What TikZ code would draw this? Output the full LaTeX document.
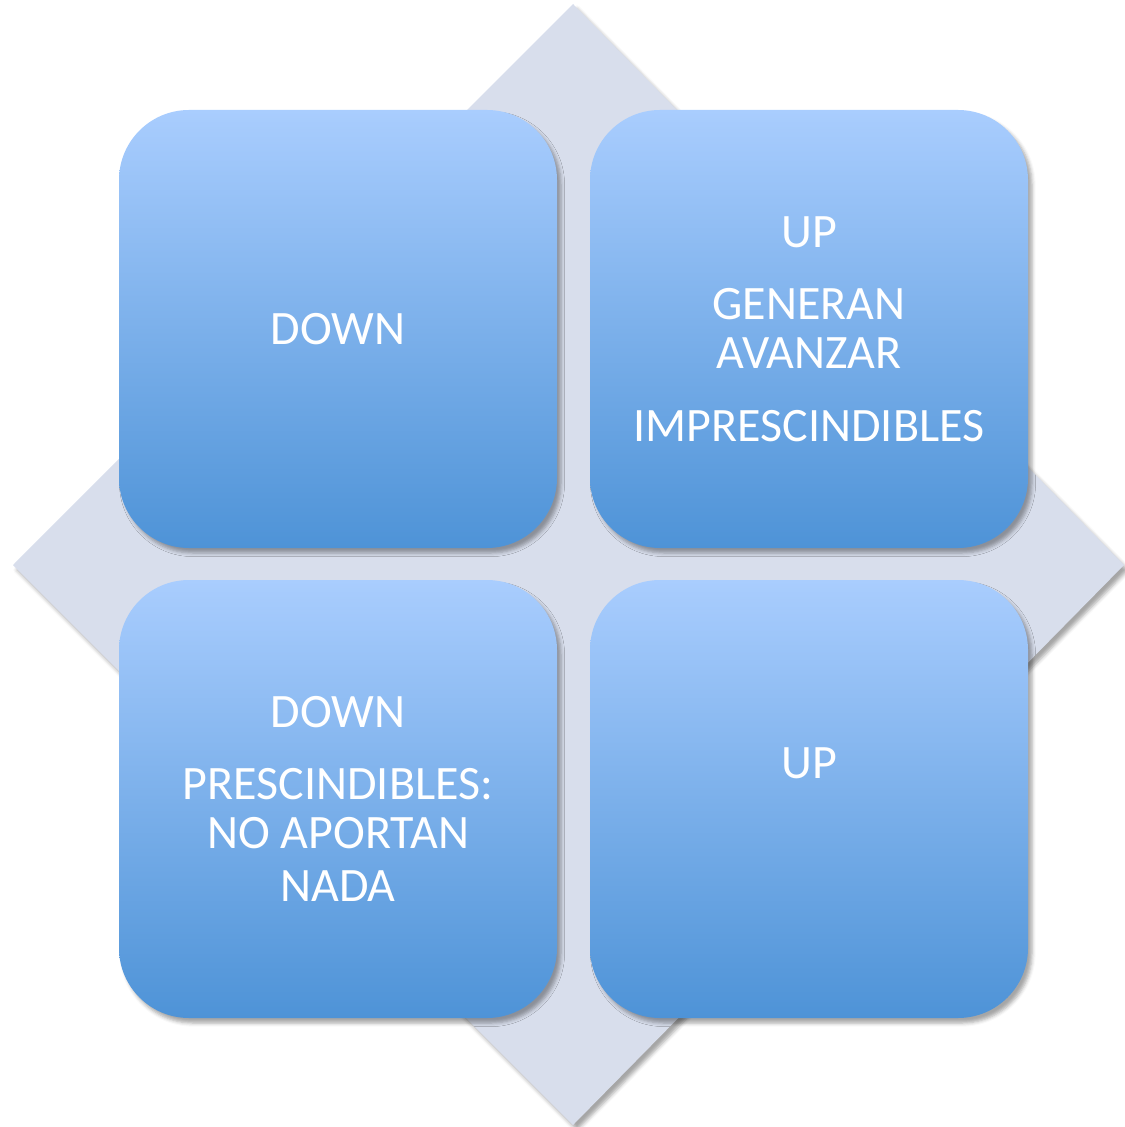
\documentclass[tikz,border=0pt]{standalone}
\usepackage{fontspec}
\setmainfont{Carlito}
\usetikzlibrary{shadows.blur}
\definecolor{diamondfill}{HTML}{D8DEEC}
\definecolor{boxtop}{HTML}{A9CDFE}
\definecolor{boxbottom}{HTML}{4E93D7}
\begin{document}
\begin{tikzpicture}
    [
        x=0.5pt, y=-0.5pt,
        softshadow/.style={blur shadow={shadow xshift=2pt, shadow yshift=-2.5pt, shadow blur radius=1.8pt, shadow opacity=35}},
        quadrant/.style={rectangle, rounded corners=35pt, minimum size=219pt, inner sep=0pt,
            top color=boxtop, bottom color=boxbottom, softshadow},
        caption/.style={text=white, align=center, font=\fontsize{24}{24.5}\selectfont},
    ]
    \useasboundingbox (0,0) rectangle (1124,1127);
    \fill[diamondfill, softshadow] (573,4) -- (1124,565) -- (573,1125) -- (13,565) -- cycle;

    \node (downTop) at (338,329) [quadrant, caption] {DOWN};
    \node (upTop) at (809,329) [quadrant, caption] {UP\\[11.5pt]
        GENERAN\\ AVANZAR\\[12pt] IMPRESCINDIBLES};
    \node (downBot) at (338,799) [quadrant, caption] {DOWN\\[11.5pt]
        PRESCINDIBLES:\\ NO APORTAN\\[2pt] NADA};
    \node (upBot) at (809,799) [quadrant] {};
    \node (upBotText) at ([yshift=18pt]upBot.center) [caption] {UP};
\end{tikzpicture}
\end{document}
